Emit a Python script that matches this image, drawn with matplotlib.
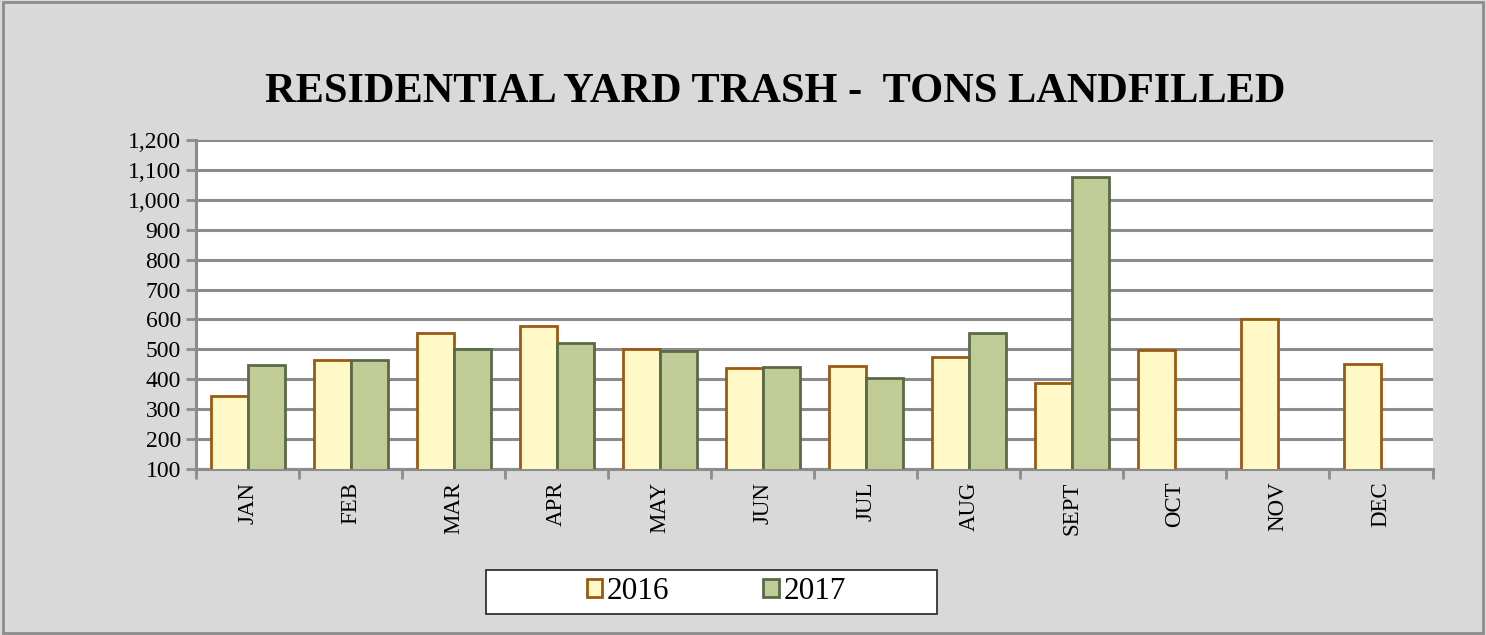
import numpy as np
import matplotlib.pyplot as plt
from matplotlib.patches import Rectangle
from matplotlib.ticker import FuncFormatter, MultipleLocator

plt.rcParams['font.family'] = ['Liberation Serif', 'DejaVu Serif']

months = ['JAN', 'FEB', 'MAR', 'APR', 'MAY', 'JUN', 'JUL', 'AUG', 'SEPT', 'OCT', 'NOV', 'DEC']
tons_2016 = [346, 465, 555, 578, 501, 437, 446, 474, 388, 498, 600, 451]
tons_2017 = [449, 465, 500, 523, 494, 441, 405, 556, 1077, None, None, None]

fig = plt.figure(figsize=(14.86, 6.35), dpi=100)
fig.patch.set_facecolor('#d9d9d9')
fig.patches.append(Rectangle((0.002, 0.003), 0.996, 0.994, transform=fig.transFigure,
                             fill=False, edgecolor='#8c8c8c', linewidth=2))

ax = fig.add_axes([0.132, 0.261, 0.832, 0.519])
ax.set_facecolor('white')

x = np.arange(len(months))
w = 0.36
ax.bar(x - w / 2, tons_2016, w, color='#fff9c8', edgecolor='#9c5a10',
       linewidth=2, label='2016', zorder=3)
x17 = [i for i, v in enumerate(tons_2017) if v is not None]
v17 = [v for v in tons_2017 if v is not None]
ax.bar(np.array(x17) + w / 2, v17, w, color='#c0cb96', edgecolor='#5a6a48',
       linewidth=2, label='2017', zorder=3)

ax.set_ylim(100, 1200)
ax.set_xlim(-0.5, len(months) - 0.5)
ax.yaxis.set_major_locator(MultipleLocator(100))
ax.yaxis.set_major_formatter(FuncFormatter(lambda v, p: f'{int(v):,}'))
ax.grid(axis='y', color='#8c8c8c', linewidth=2.2, zorder=0)

ax.set_xticks(np.arange(-0.5, len(months), 1.0))
ax.set_xticklabels([])
ax.set_xticks(x, minor=True)
ax.set_xticklabels(months, minor=True, rotation=90, fontsize=16.5)
ax.tick_params(axis='x', which='minor', length=0, pad=9)
ax.tick_params(axis='x', which='major', length=7, width=2, color='#8c8c8c', direction='out')
ax.tick_params(axis='y', length=7, width=2, color='#8c8c8c', labelsize=17, pad=4)

for s in ['top', 'right']:
    ax.spines[s].set_visible(False)
for s in ['left', 'bottom']:
    ax.spines[s].set_color('#8c8c8c')
    ax.spines[s].set_linewidth(2.2)

fig.text(0.522, 0.855, 'RESIDENTIAL YARD TRASH -  TONS LANDFILLED', ha='center', va='center',
         fontsize=30.5, fontweight='bold')

# legend box drawn separately to match the wide frame
fig.patches.append(Rectangle((486 / 1486, 1 - 614 / 635), 451 / 1486, 44 / 635,
                             transform=fig.transFigure, facecolor='white',
                             edgecolor='#333333', linewidth=1.3, zorder=1))
h, l = ax.get_legend_handles_labels()
leg = fig.legend(h, l, loc='center', bbox_to_anchor=(0.482, 0.0685), ncol=2, fontsize=22.5,
                 frameon=False, handlelength=0.5, handleheight=0.5, handletextpad=0.15,
                 columnspacing=3.0, borderaxespad=0)

fig.savefig('out.png', dpi=100, facecolor=fig.get_facecolor())
